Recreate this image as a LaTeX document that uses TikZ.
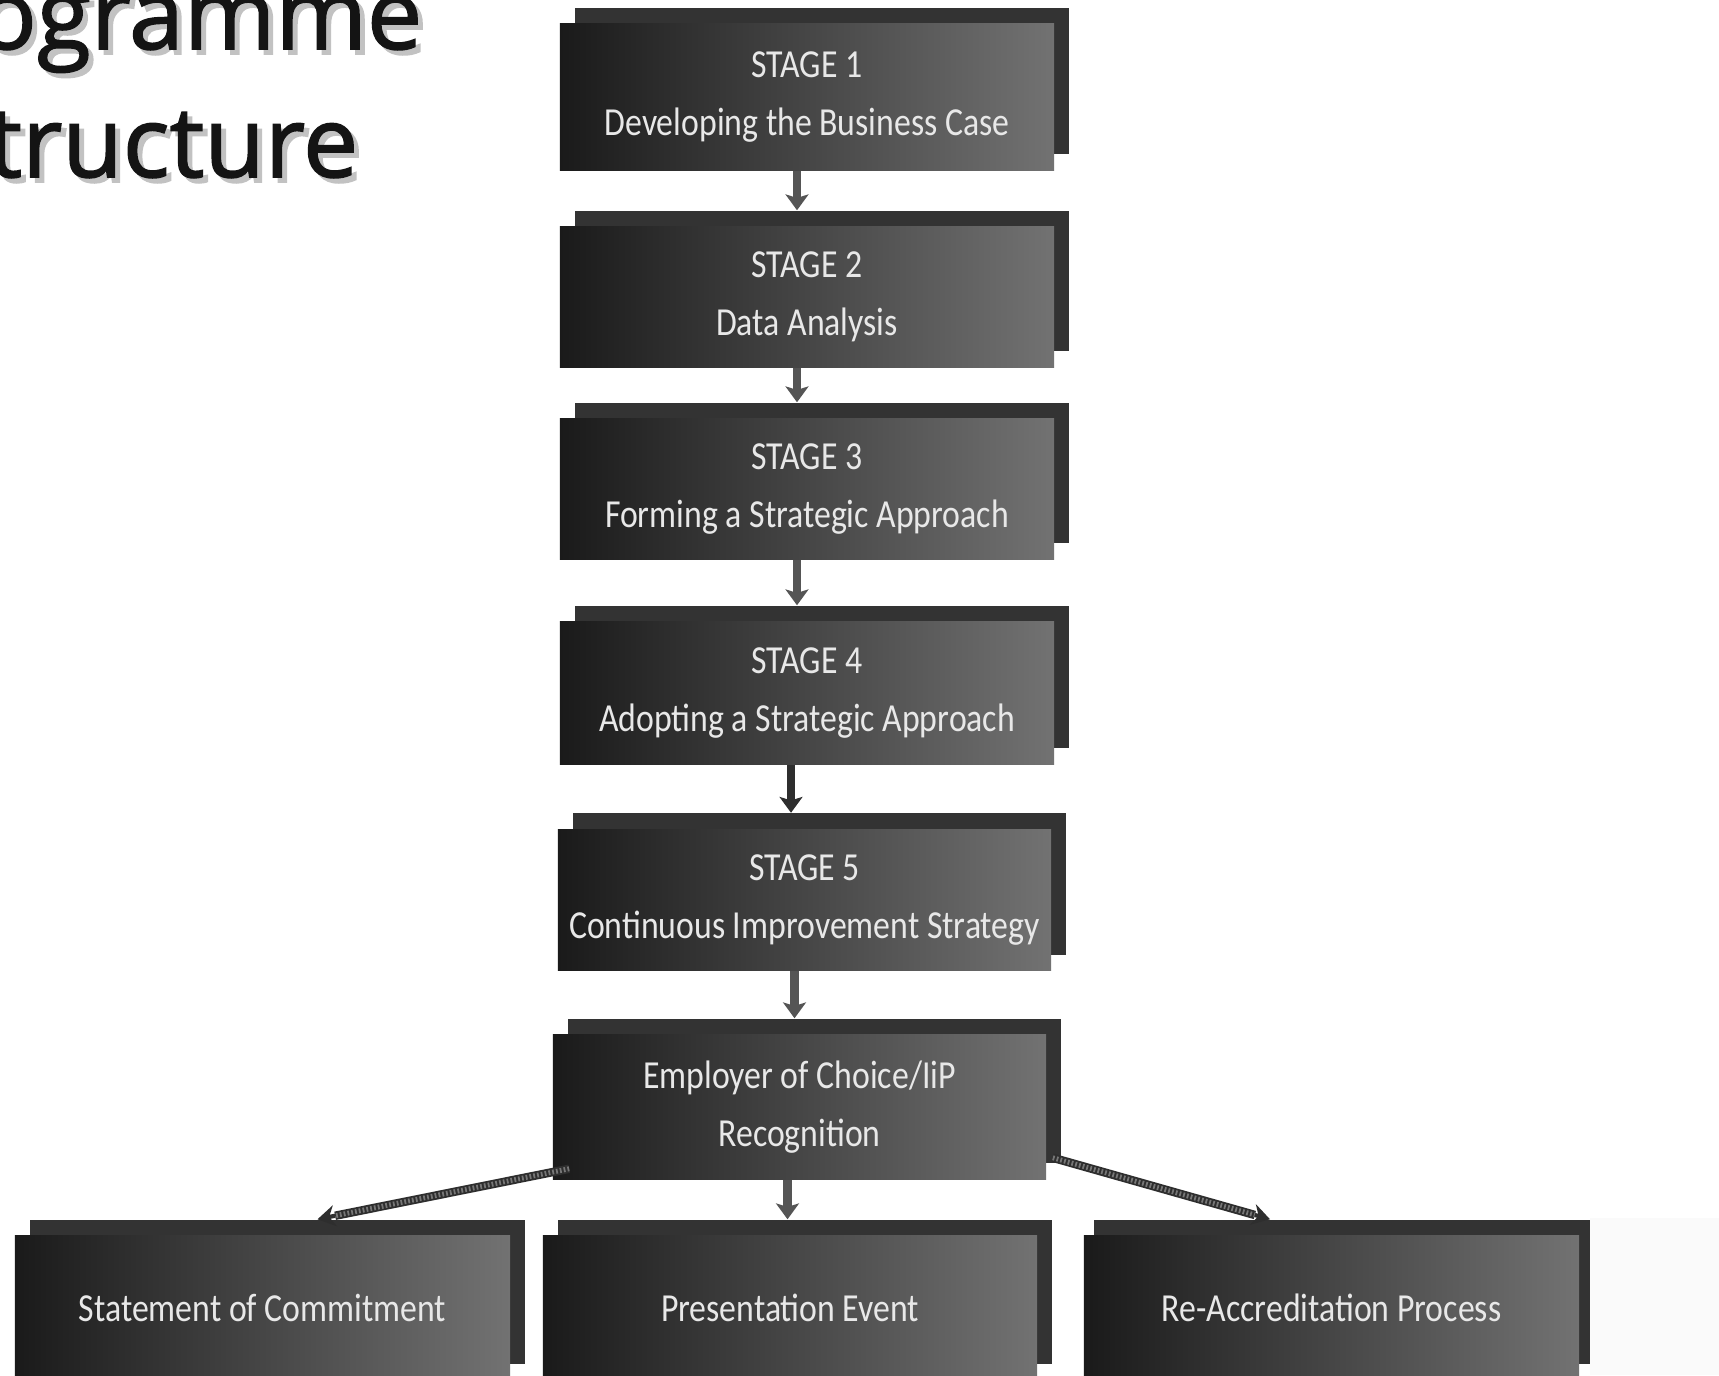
\documentclass[tikz,border=0pt]{standalone}
\usepackage{fontspec}
\setmainfont{Carlito}[FakeStretch=0.85]
\newfontfamily\titlefont{Open Sans}[FakeBold=1.6]
\usetikzlibrary{calc,arrows.meta}
\definecolor{boxdark}{HTML}{1A1A1A}
\definecolor{boxlight}{HTML}{727272}
\definecolor{shadowc}{HTML}{333333}
\definecolor{arrowc}{HTML}{555555}
\definecolor{arrowdark}{HTML}{2E2E2E}
\definecolor{txtc}{HTML}{E8E8E8}
\definecolor{titlec}{HTML}{141414}
\definecolor{titlesh}{HTML}{C2C2C2}
\definecolor{faintc}{HTML}{FAFAFA}
\tikzset{
  frontbox/.style={rectangle, draw=none, inner sep=0pt, left color=boxdark, right color=boxlight,
    text=txtc, align=center, font=\fontsize{11.3}{16.5}\selectfont,
    minimum width=4.94cm, minimum height=1.41cm},
  backbox/.style={rectangle, draw=none, inner sep=0pt, fill=shadowc,
    minimum width=4.94cm, minimum height=1.41cm},
  varrow/.style={draw=arrowc, line width=2.4pt, -{Stealth[length=4.5pt,width=6.5pt,inset=1pt]}},
  darrowbase/.style={draw=arrowdark, line width=2.4pt},
  darrowtop/.style={draw=arrowc!80, line width=1.4pt, dash pattern=on 0.5pt off 0.6pt},
  darrowtip/.style={draw=arrowdark, line width=1.2pt, -{Stealth[length=5pt,width=6pt]}},
  titlestyle/.style={anchor=base east, inner sep=0pt, font=\titlefont\fontsize{28}{28}\selectfont},
}
\begin{document}
\begin{tikzpicture}[x=0.01cm,y=-0.01cm]
\useasboundingbox (0,0) rectangle (1719,1375);
\begin{scope}
\clip (0,0) rectangle (1719,1375);
\fill[white] (0,0) rectangle (1719,1375);

% title
\node[titlestyle, text=titlesh] (t1sh) at (428,54) {Programme};
\node[titlestyle, text=titlec] (t1) at (423,49) {Programme};
\node[titlestyle, text=titlesh] (t2sh) at (364,182) {Structure};
\node[titlestyle, text=titlec] (t2) at (359,177) {Structure};

% shadow boxes
\node[backbox, minimum height=1.46cm] (s1sh) at (822,81) {};
\node[backbox, minimum height=1.40cm] (s2sh) at (822,281) {};
\node[backbox, minimum height=1.40cm] (s3sh) at (822,473) {};
\node[backbox, minimum height=1.42cm] (s4sh) at (822,677) {};
\node[backbox, minimum width=4.93cm] (s5sh) at (819.5,884) {};
\node[backbox, minimum width=4.93cm, minimum height=1.44cm] (empsh) at (814.5,1091) {};
\node[backbox, minimum width=4.95cm, minimum height=1.44cm] (stsh) at (277.5,1292) {};
\node[backbox, minimum width=4.94cm, minimum height=1.44cm] (prsh) at (805,1292) {};
\node[backbox, minimum width=4.95cm, minimum height=1.44cm] (rash) at (1342,1292) {};
\fill[faintc] (1590,1218) rectangle (1719,1375);

% front boxes
\node[frontbox, minimum height=1.46cm] (s1) at (807,97) {STAGE 1\\Developing the Business Case};
\node[frontbox, minimum height=1.40cm] (s2) at (807,297) {STAGE 2\\Data Analysis};
\node[frontbox, minimum height=1.40cm] (s3) at (807,489) {STAGE 3\\Forming a Strategic Approach};
\node[frontbox, minimum height=1.42cm] (s4) at (807,693) {STAGE 4\\Adopting a Strategic Approach};
\node[frontbox, minimum width=4.93cm] (s5) at (804.5,900) {STAGE 5\\Continuous Improvement Strategy};
\node[frontbox, minimum width=4.93cm, minimum height=1.44cm] (emp) at (799.5,1107) {Employer of Choice/IiP\\Recognition};
\node[frontbox, minimum width=4.95cm, minimum height=1.44cm] (st) at (262.5,1308) {Statement of Commitment};
\node[frontbox, minimum width=4.94cm, minimum height=1.44cm] (pr) at (790,1308) {Presentation Event};
\node[frontbox, minimum width=4.95cm, minimum height=1.44cm] (ra) at (1331.5,1308) {Re-Accreditation Process};

% vertical arrows
\draw[varrow] ($(s1.south)+(-10,0)$) -- ($(s2sh.north -| s1.south)+(-10,0)$);
\draw[varrow] ($(s2.south)+(-10,0)$) -- ($(s3sh.north -| s2.south)+(-10,0)$);
\draw[varrow] ($(s3.south)+(-10,0)$) -- ($(s4sh.north -| s3.south)+(-10,0)$);
\draw[varrow, draw=arrowdark] ($(s4.south)+(-16,0)$) -- ($(s5sh.north -| s4.south)+(-16,0)$);
\draw[varrow] ($(s5.south)+(-10,0)$) -- ($(empsh.north -| s5.south)+(-10,0)$);
\draw[varrow] ($(emp.south)+(-12,0)$) -- ($(prsh.north -| emp.south)+(-12,0)$);

% diagonal arrows
\coordinate (la) at ($(emp.south west)+(17,-11)$);
\coordinate (lb) at ($(stsh.north)+(40,0)$);
\coordinate (lm) at ($(la)!0.93!(lb)$);
\draw[darrowbase] (la) -- (lm);
\draw[darrowtop] (la) -- (lm);
\draw[darrowtip] (lm) -- (lb);
\coordinate (ra1) at ($(emp.south east)+(6,-22)$);
\coordinate (rb) at ($(rash.north)+(-72,0)$);
\coordinate (rm) at ($(ra1)!0.93!(rb)$);
\draw[darrowbase] (ra1) -- (rm);
\draw[darrowtop] (ra1) -- (rm);
\draw[darrowtip] (rm) -- (rb);
\end{scope}
\end{tikzpicture}
\end{document}
